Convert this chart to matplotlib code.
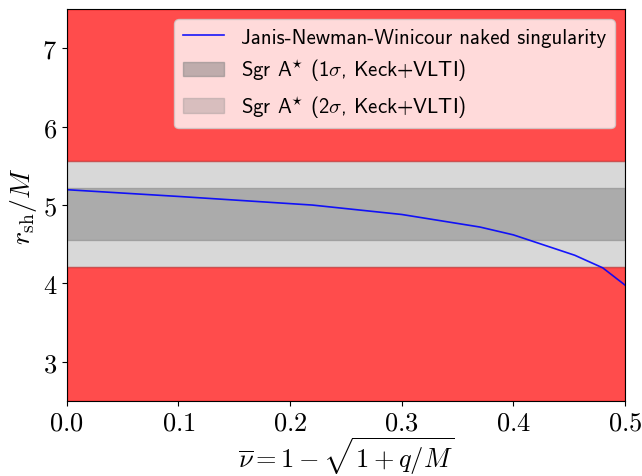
import matplotlib
matplotlib.use("Agg")
import matplotlib.pyplot as plt

# JNW shadow radius
nu = [0.0, 0.10, 0.22, 0.30, 0.37, 0.40, 0.455, 0.48, 0.50]
r_sh = [5.196, 5.11, 5.00, 4.88, 4.72, 4.62, 4.36, 4.20, 3.98]

# Sgr A* bounds (Keck+VLTI)
one_sigma = [4.55, 5.22]
two_sigma = [4.21, 5.56]

xlim = [0.0, 0.5]
ylim = [2.5, 7.5]

plt.rcParams["mathtext.fontset"] = "cm"
plt.rcParams["font.family"] = "cmr10"
plt.rcParams["axes.formatter.use_mathtext"] = True

fig = plt.figure(figsize=(6.42, 4.77), dpi=100)
ax = fig.add_axes([0.104, 0.157, 0.8695, 0.822])

# excluded regions
ax.fill_between(xlim, ylim[0], two_sigma[0], color="red", alpha=0.7)
ax.fill_between(xlim, two_sigma[1], ylim[1], color="red", alpha=0.7)

ax.plot(nu, r_sh, color="blue", lw=1.2, alpha=0.9,
        label="Janis-Newman-Winicour naked singularity")
ax.fill_between(xlim, one_sigma[0], one_sigma[1], color="gray", alpha=0.5,
                label=r"Sgr A$^{\star}$ (1$\sigma$, Keck+VLTI)")
ax.fill_between(xlim, two_sigma[0], two_sigma[1], color="gray", alpha=0.3,
                label=r"Sgr A$^{\star}$ (2$\sigma$, Keck+VLTI)")

ax.set_xlim(xlim)
ax.set_ylim(ylim)
ax.set_xticks([0.0, 0.1, 0.2, 0.3, 0.4, 0.5])
ax.set_yticks([3, 4, 5, 6, 7])
ax.tick_params(labelsize=19)
ax.set_xlabel(r"$\overline{\nu} = 1-\sqrt{1+q/M}$", fontsize=19, labelpad=0)
ax.set_ylabel(r"$r_{\rm sh}/M$", fontsize=20, labelpad=2)

ax.legend(loc="upper right", prop={"family": "cmss10", "size": 15})

plt.savefig("out.png", dpi=100)
